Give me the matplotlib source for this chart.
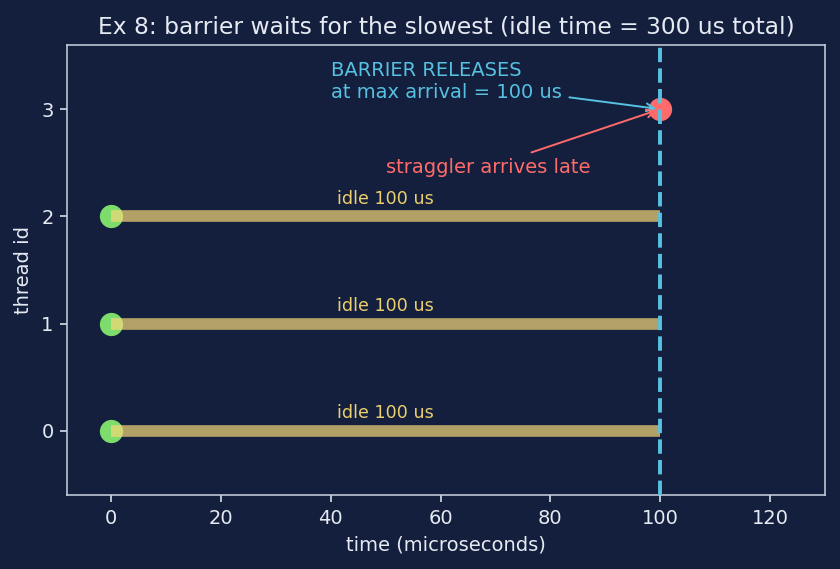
import matplotlib.pyplot as plt

threads = [0, 1, 2]
arrive = [0, 0, 0]
release = [100, 100, 100]
straggler_thread = 3
straggler_arrive = 100
idle_labels = ['idle 100 us', 'idle 100 us', 'idle 100 us']

bg = '#141f3d'
fg = '#e6eaf2'
cyan = '#56c1e0'
red = '#ff6b6b'
yellow = '#f6d978'

fig, ax = plt.subplots(figsize=(6, 4.065), dpi=140)
fig.patch.set_facecolor(bg)
ax.set_facecolor(bg)

# early threads: arrive, then sit idle until the barrier releases
ax.scatter(arrive, threads, s=120, color='#7ddc6c', zorder=3)
for t, a, r, lab in zip(threads, arrive, release, idle_labels):
    ax.plot([a, r], [t, t], color=yellow, alpha=0.7, linewidth=6, zorder=4,
            solid_capstyle='butt')
    ax.text((a + r) / 2, t + 0.08, lab, color='#ebcf6e', fontsize=9,
            ha='center', va='bottom')

# straggler
ax.scatter([straggler_arrive], [straggler_thread], s=120, color=red, zorder=3)

ax.axvline(x=max(release), color=cyan, linestyle='--', linewidth=2, zorder=5)

ax.annotate('BARRIER RELEASES\nat max arrival = 100 us',
            xy=(straggler_arrive, straggler_thread), xytext=(40, 3.26),
            color=cyan, fontsize=10, va='center',
            arrowprops=dict(arrowstyle='->', color=cyan, lw=1.0), zorder=6)
ax.annotate('straggler arrives late',
            xy=(straggler_arrive, straggler_thread), xytext=(50, 2.46),
            color=red, fontsize=10, va='center',
            arrowprops=dict(arrowstyle='->', color=red, lw=1.0), zorder=6)

ax.set_xlim(-8, 130)
ax.set_ylim(-0.6, 3.6)
ax.set_yticks([0, 1, 2, 3])
ax.set_xlabel('time (microseconds)', color=fg, fontsize=10)
ax.set_ylabel('thread id', color=fg, fontsize=10)
ax.set_title('Ex 8: barrier waits for the slowest (idle time = 300 us total)',
             color=fg, fontsize=12)
ax.tick_params(colors=fg, labelsize=10)
for sp in ax.spines.values():
    sp.set_color('#c8d0e0')

fig.subplots_adjust(left=0.080, right=0.982, top=0.921, bottom=0.130)
plt.savefig('out.png', dpi=140, facecolor=bg)
